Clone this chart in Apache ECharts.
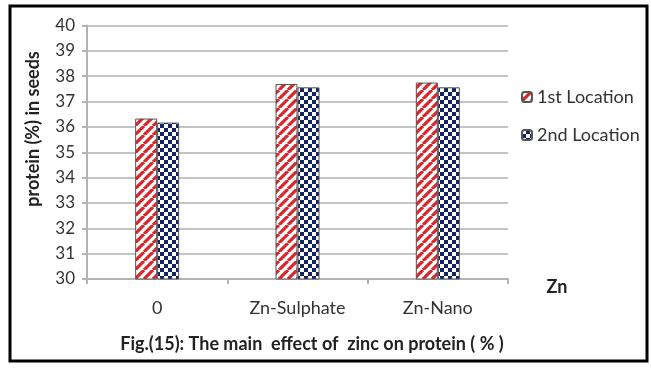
<!DOCTYPE html>
<html><head><meta charset="utf-8">
<script src="https://cdn.jsdelivr.net/npm/echarts@6/dist/echarts.min.js"></script>
<style>html,body{margin:0;padding:0;background:#fff}#c{width:651px;height:368px}</style>
</head><body><div id="c"></div>
<script>
const categories = ['0', 'Zn-Sulphate', 'Zn-Nano'];
const seriesNames = ['1st Location', '2nd Location'];
const loc1 = [36.33, 37.69, 37.75];
const loc2 = [36.17, 37.56, 37.56];
const yTicks = { min: 30, max: 40, interval: 1 };

function stripes() {
  const c = document.createElement('canvas'); c.width = 9; c.height = 9;
  const g = c.getContext('2d');
  g.fillStyle = '#fff'; g.fillRect(0, 0, 9, 9);
  g.strokeStyle = '#d9262a'; g.lineWidth = 3.2;
  g.beginPath();
  for (let k = -9; k <= 18; k += 9) { g.moveTo(k, 9); g.lineTo(k + 9, 0); }
  g.stroke();
  return c;
}
function checker() {
  const c = document.createElement('canvas'); c.width = 8; c.height = 8;
  const g = c.getContext('2d');
  g.fillStyle = '#132462'; g.fillRect(0, 0, 8, 8);
  g.fillStyle = '#fff';
  g.fillRect(0, 0, 4, 4); g.fillRect(4, 4, 4, 4);
  return c;
}
const font = 'Lato, "Open Sans", sans-serif';
const chart = echarts.init(document.getElementById('c'), null, { renderer: 'canvas' });
chart.setOption({
  animation: false,
  backgroundColor: '#fff',
  grid: { left: 87, right: 143, top: 25.5, bottom: 89 },
  legend: {
    orient: 'vertical', left: 521, top: 88, padding: 0, itemWidth: 10, itemHeight: 10, itemGap: 20,
    textStyle: { fontFamily: font, fontSize: 18, color: '#333' },
    data: seriesNames
  },
  xAxis: {
    type: 'category', data: categories,
    axisLine: { lineStyle: { color: '#b3b3b3', width: 2 } },
    axisTick: { show: true, length: 5, lineStyle: { color: '#b3b3b3', width: 2 } },
    axisLabel: { fontFamily: font, fontSize: 18, color: '#333', margin: 20 }
  },
  yAxis: {
    type: 'value', min: yTicks.min, max: yTicks.max, interval: yTicks.interval,
    axisLine: { show: true, lineStyle: { color: '#b3b3b3', width: 2 } },
    axisTick: { show: true, length: 5, lineStyle: { color: '#b3b3b3', width: 2 } },
    splitLine: { lineStyle: { color: '#c4c4c4', width: 2 } },
    axisLabel: { fontFamily: font, fontSize: 17, color: '#333', margin: 12 }
  },
  series: [
    { name: seriesNames[0], type: 'bar', data: loc1, barWidth: 22, barGap: '0%',
      itemStyle: { color: { image: stripes(), repeat: 'repeat' }, borderColor: '#555', borderWidth: 1 } },
    { name: seriesNames[1], type: 'bar', data: loc2, barWidth: 22,
      itemStyle: { color: { image: checker(), repeat: 'repeat' }, borderColor: '#555', borderWidth: 1 } }
  ],
  graphic: [
    { type: 'rect', shape: { x: 10, y: 6, width: 637, height: 355 }, style: { fill: 'none', stroke: '#000', lineWidth: 3 }, silent: true },
    { type: 'text', x: 33, y: 129, rotation: Math.PI / 2, style: { text: 'protein (%) in seeds', font: 'bold 18px ' + font, fill: '#222', align: 'center', verticalAlign: 'middle' } },
    { type: 'text', x: 557, y: 287, style: { text: 'Zn', font: 'bold 18px ' + font, fill: '#222', align: 'center', verticalAlign: 'middle' } },
    { type: 'text', x: 312, y: 344, style: { text: 'Fig.(15): The main  effect of  zinc on protein ( % )', font: 'bold 18px ' + font, fill: '#222', align: 'center', verticalAlign: 'middle' } }
  ]
});
</script></body></html>
